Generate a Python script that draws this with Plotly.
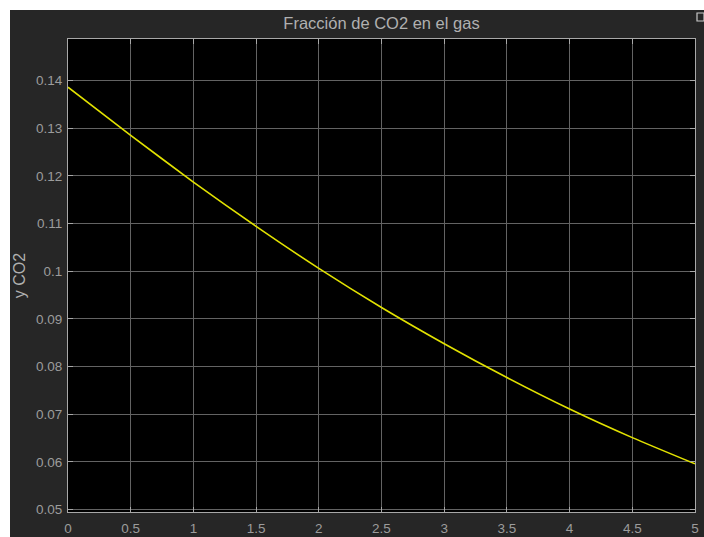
import plotly.graph_objects as go

# Fracción molar de CO2 en el gas a lo largo de la columna
x_pos = [0, 0.5, 1.0, 1.5, 2.0, 2.5, 3.0, 3.5, 4.0, 4.5, 5.0]
y_co2 = [0.1386, 0.1285, 0.1187, 0.1094, 0.1006, 0.0924, 0.0848, 0.0777, 0.0711, 0.0651, 0.0596]

x_ticks = [0, 0.5, 1, 1.5, 2, 2.5, 3, 3.5, 4, 4.5, 5]
x_ticktext = ["0", "0.5", "1", "1.5", "2", "2.5", "3", "3.5", "4", "4.5", "5"]
y_ticks = [0.05, 0.06, 0.07, 0.08, 0.09, 0.10, 0.11, 0.12, 0.13, 0.14]
y_ticktext = ["0.05", "0.06", "0.07", "0.08", "0.09", "0.1", "0.11", "0.12", "0.13", "0.14"]

W, H = 704, 537
ML, MR, MT, MB = 68, 9, 39, 25
PW, PH = W - ML - MR, H - MT - MB

AX_COLOR = "#a8a8a8"
GRID_COLOR = "#636363"
TXT_COLOR = "#9c9c9c"
FONT = "Liberation Sans, Arial, sans-serif"

fig = go.Figure()
fig.add_trace(go.Scatter(
    x=x_pos, y=y_co2, mode="lines",
    line=dict(color="#e2e200", width=1.6, shape="spline", smoothing=0.6),
    hoverinfo="x+y", showlegend=False,
))


def px_x(p):
    return (p - ML) / PW


def px_y(p):
    return 1 - (p - MT) / PH


shapes = [
    # white strips around the dark figure panel
    dict(type="rect", xref="paper", yref="paper",
         x0=px_x(0), x1=px_x(W), y0=px_y(0), y1=px_y(10),
         fillcolor="white", line=dict(width=0), layer="below"),
    dict(type="rect", xref="paper", yref="paper",
         x0=px_x(0), x1=px_x(10), y0=px_y(0), y1=px_y(H),
         fillcolor="white", line=dict(width=0), layer="below"),
    # small export icon at the top-right corner
    dict(type="rect", xref="paper", yref="paper",
         x0=px_x(697), x1=px_x(704), y0=px_y(13), y1=px_y(21),
         fillcolor="#262626", line=dict(color="#c8c8c8", width=1.2), layer="above"),
]

fig.update_layout(
    width=W, height=H,
    margin=dict(l=ML, r=MR, t=MT, b=MB, pad=0, autoexpand=False),
    paper_bgcolor="#262626",
    plot_bgcolor="#000000",
    font=dict(family=FONT, color=TXT_COLOR, size=13),
    title=dict(text="Fracción de CO2 en el gas", x=381.5 / W,
               xanchor="center", y=1 - 23 / H, yanchor="middle",
               font=dict(size=16.5, color="#b0b0b0", family=FONT)),
    shapes=shapes,
    xaxis=dict(
        range=[0, 5], tickvals=x_ticks, ticktext=x_ticktext,
        showgrid=True, gridcolor=GRID_COLOR, gridwidth=1,
        showline=True, linecolor=AX_COLOR, linewidth=1, mirror="ticks",
        ticks="inside", ticklen=5, tickcolor=AX_COLOR,
        zeroline=False, tickfont=dict(size=13.5, color=TXT_COLOR),
        ticklabelstandoff=4, automargin=False,
    ),
    yaxis=dict(
        range=[0.0495, 0.1487], tickvals=y_ticks, ticktext=y_ticktext,
        showgrid=True, gridcolor=GRID_COLOR, gridwidth=1,
        showline=True, linecolor=AX_COLOR, linewidth=1, mirror="ticks",
        ticks="inside", ticklen=5, tickcolor=AX_COLOR,
        zeroline=False, tickfont=dict(size=13.5, color=TXT_COLOR),
        ticklabelstandoff=2, automargin=False,
        title=dict(text="y CO2", standoff=6, font=dict(size=16, color="#b0b0b0")),
    ),
)

fig.write_html("out.html")
